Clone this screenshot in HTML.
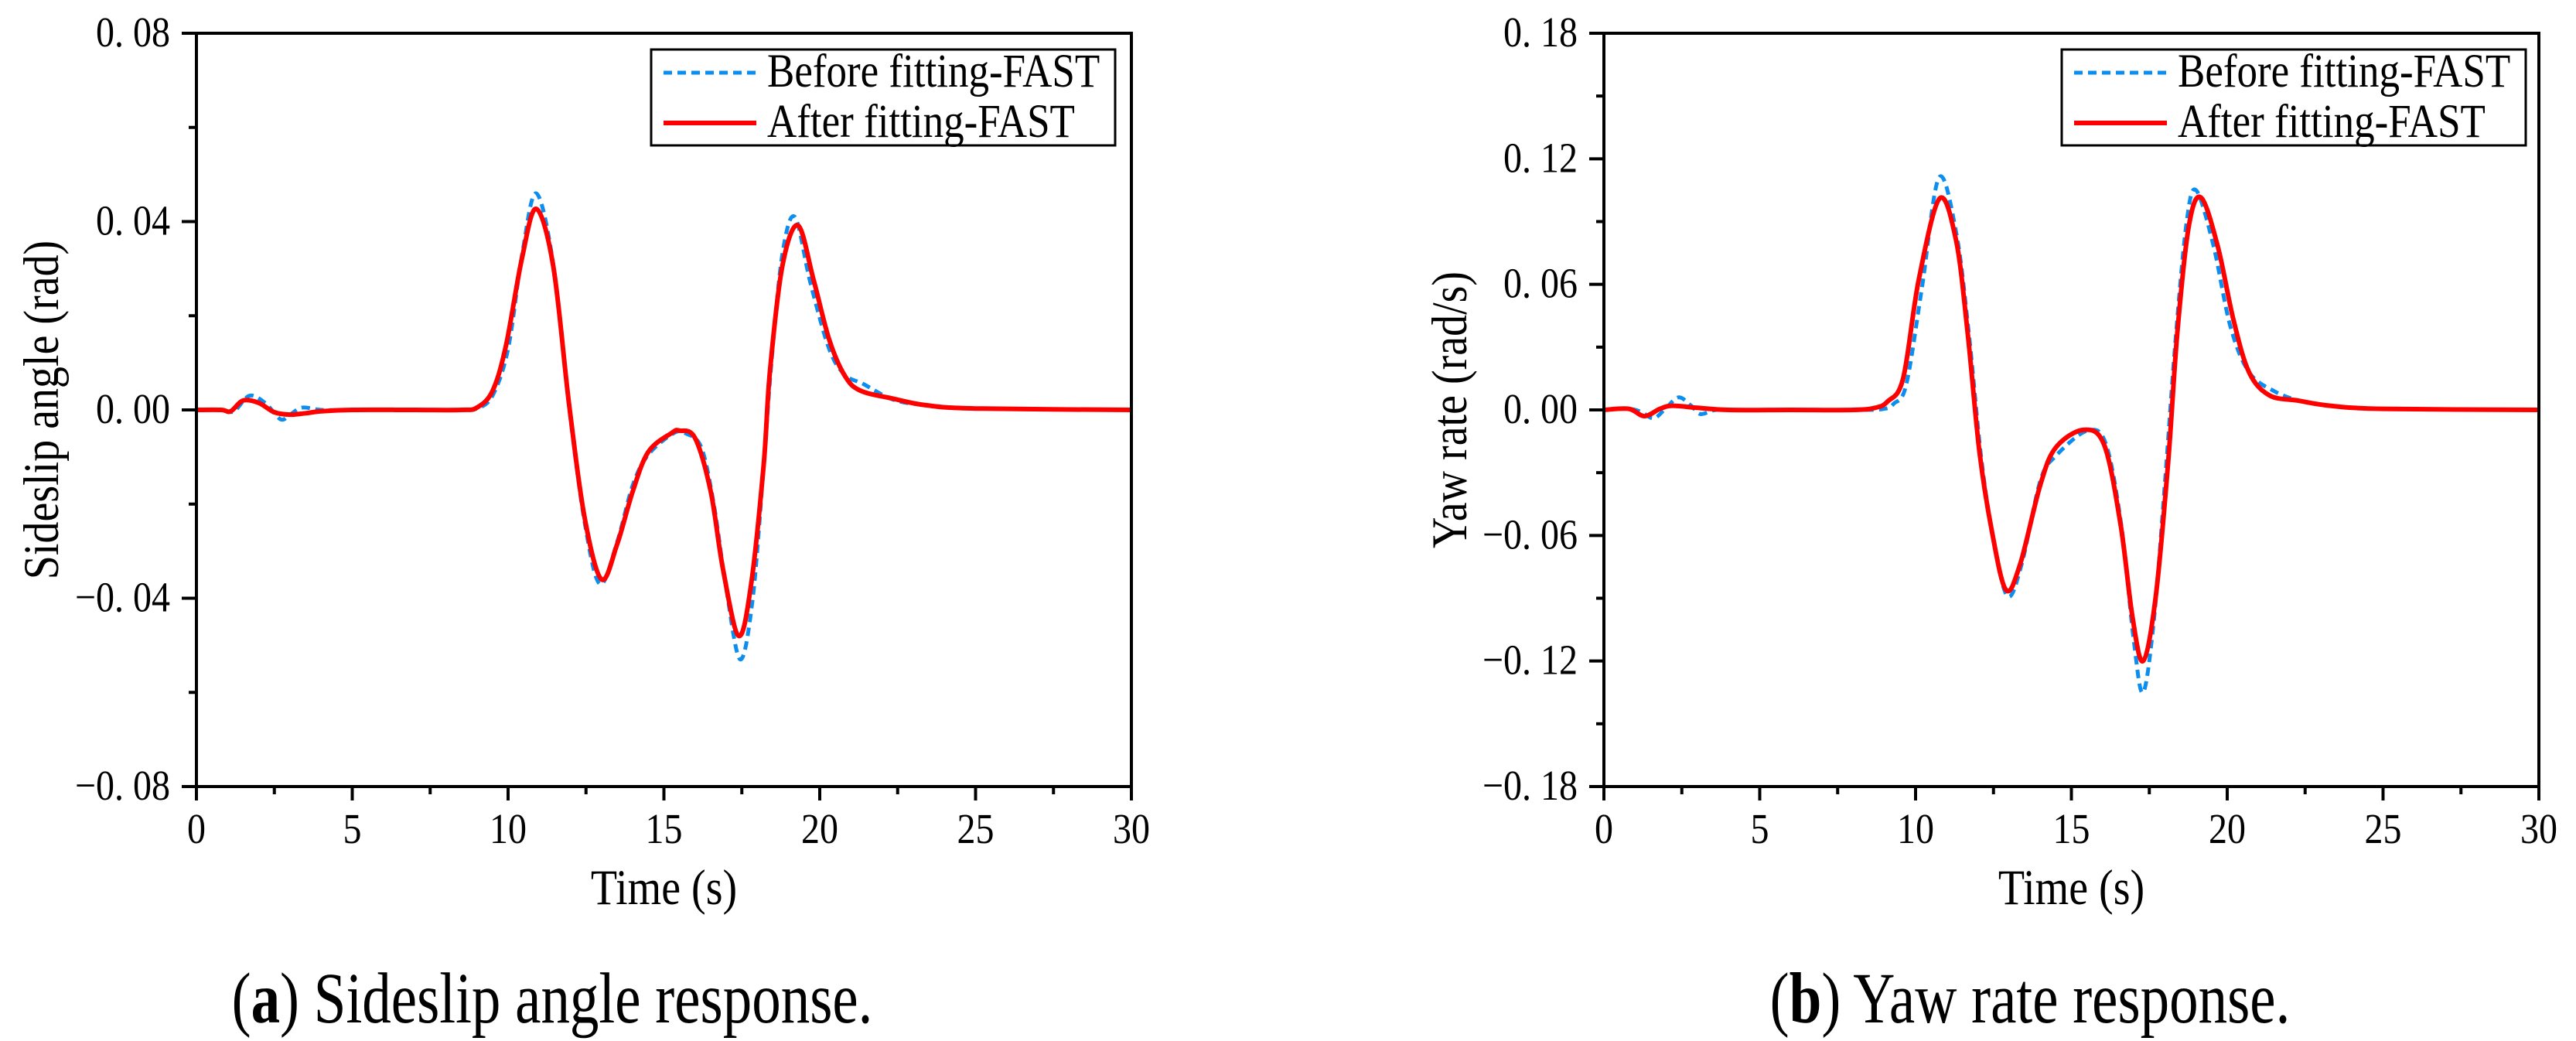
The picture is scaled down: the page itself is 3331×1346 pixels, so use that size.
<!DOCTYPE html>
<html><head><meta charset="utf-8">
<style>
html,body{margin:0;padding:0;background:#fff;}
svg{display:block;font-family:"Liberation Serif",serif;}
</style></head>
<body>
<svg id="fig" width="3331" height="1346" viewBox="0 0 3331 1346" xmlns="http://www.w3.org/2000/svg">
<text x="0" y="0" font-size="75" text-anchor="middle" transform="translate(714,1322) scale(1,1.25)">(<tspan font-weight="bold">a</tspan>) Sideslip angle response.</text>
<text x="0" y="0" font-size="75" text-anchor="middle" transform="translate(2625,1322) scale(1,1.25)">(<tspan font-weight="bold">b</tspan>) Yaw rate response.</text>
</svg>
<script>
// ---- data: sideslip (a) ----
const tA_red = [0,0.8,1.1,1.5,2.0,2.5,3.0,3.5,4.0,5,7,8.5,9.0,9.5,9.93,10.44,10.9,11.45,11.96,12.46,13.0,13.5,14.0,14.5,15.25,15.5,16.0,16.5,16.9,17.4,17.8,18.2,18.4,18.8,19.3,19.8,20.3,20.8,21.3,22.35,23.4,25,30];
const vA_red = [0,0,-0.0003,0.002,0.0015,-0.0005,-0.001,-0.0007,-0.0003,0,0,0,0.0005,0.004,0.0136,0.032,0.0427,0.0305,0.001,-0.023,-0.036,-0.0285,-0.0173,-0.0089,-0.0049,-0.0044,-0.006,-0.0173,-0.034,-0.048,-0.037,-0.0117,0.008,0.0305,0.0392,0.0277,0.015,0.0073,0.0041,0.0024,0.001,0.0003,0];
const tA_blue = [0,0.8,1.2,1.7,2.2,2.7,3.0,3.4,4.0,5,7,8.5,9.0,9.5,10.0,10.45,10.9,11.45,11.96,12.46,12.95,13.5,14.0,14.5,15.3,15.7,16.2,16.6,17.0,17.45,17.85,18.2,18.45,18.8,19.2,19.7,20.3,20.8,21.4,22.35,23.4,25,30];
const vA_blue = [0,0,-0.0003,0.003,0.0015,-0.002,-0.001,0.0005,0,0,0,0,0.0003,0.003,0.013,0.033,0.046,0.031,0.0005,-0.024,-0.037,-0.028,-0.016,-0.0095,-0.005,-0.005,-0.008,-0.02,-0.038,-0.053,-0.04,-0.012,0.01,0.033,0.041,0.027,0.013,0.0075,0.0055,0.0022,0.001,0.0003,0];
// ---- data: yaw rate (b) ----
const tB_red = [0,0.8,1.3,1.8,2.2,3.0,4.0,6,8,8.7,9.1,9.6,10.1,10.77,11.3,11.67,12.05,12.45,12.9,13.35,14.0,14.5,15.4,16.06,16.58,16.96,17.3,17.7,18.1,18.4,18.77,19.16,19.7,20.2,20.7,21.35,22.25,23.3,25,30];
const vB_red = [0,0.0005,-0.003,0.0005,0.002,0.001,0,0,0,0.001,0.004,0.015,0.062,0.101,0.081,0.037,-0.02,-0.058,-0.086,-0.074,-0.036,-0.018,-0.0095,-0.017,-0.055,-0.099,-0.12,-0.09,-0.026,0.037,0.088,0.1015,0.078,0.043,0.018,0.007,0.0045,0.002,0.0005,0];
const tB_blue = [0,0.8,1.2,1.6,2.0,2.4,2.8,3.1,3.6,4.5,6.5,8.3,9.0,9.3,9.7,10.2,10.75,11.3,11.7,12.1,12.5,12.95,13.4,14.0,14.5,15.5,16.1,16.6,17.0,17.3,17.65,18.0,18.35,18.7,19.0,19.55,20.1,20.7,21.5,22.3,23.3,25,30];
const vB_blue = [0,0.0005,-0.001,-0.004,0.001,0.006,0.002,-0.002,0,0,0,0,0.0005,0.003,0.012,0.058,0.111,0.085,0.038,-0.022,-0.062,-0.089,-0.074,-0.034,-0.022,-0.01,-0.016,-0.055,-0.11,-0.135,-0.1,-0.035,0.035,0.09,0.105,0.079,0.04,0.018,0.009,0.0045,0.002,0.0005,0];
// ticks
const xTicks = [0,5,10,15,20,25,30];
const yTicksA = [-0.08,-0.04,0,0.04,0.08];
const yTicksB = [-0.18,-0.12,-0.06,0,0.06,0.12,0.18];
const legendLabels = ["Before fitting-FAST","After fitting-FAST"];

const NS="http://www.w3.org/2000/svg";
const svg=document.getElementById('fig');
const SY=1.15;
function mk(tag,attrs,parent){const e=document.createElementNS(NS,tag);for(const k in attrs)e.setAttribute(k,attrs[k]);(parent||svg).appendChild(e);return e;}
function txt(x,y,size,anchor,parent,extra){return mk('text',{x:0,y:0,'font-size':size,'text-anchor':anchor,transform:`translate(${x},${y}) ${extra||''} scale(1,${SY})`},parent);}
function fmt(v){const s=Math.abs(v).toFixed(2).replace('.', '. ');return (v<0?'\u2212':'')+s;}
function pathD(ts,vs,sx,sy){
  const p=ts.map((t,i)=>[sx(t),sy(vs[i])]);
  let d='M'+p[0][0].toFixed(1)+','+p[0][1].toFixed(1);
  for(let i=0;i<p.length-1;i++){
    const p0=p[i-1]||p[i],p1=p[i],p2=p[i+1],p3=p[i+2]||p[i+1];
    const c1=[p1[0]+(p2[0]-p0[0])/6,p1[1]+(p2[1]-p0[1])/6];
    const c2=[p2[0]-(p3[0]-p1[0])/6,p2[1]-(p3[1]-p1[1])/6];
    d+='C'+c1[0].toFixed(1)+','+c1[1].toFixed(1)+' '+c2[0].toFixed(1)+','+c2[1].toFixed(1)+' '+p2[0].toFixed(1)+','+p2[1].toFixed(1);
  }
  return d;
}
function chart(o){
  const g=mk('g',{});
  
  
  const sx=t=>o.x0+(t-0)/30*(o.x1-o.x0);
  const sy=v=>o.y1-(v-o.ymin)/(o.ymax-o.ymin)*(o.y1-o.y0);
  const b=mk('path',{d:pathD(o.tb,o.vb,sx,sy),fill:'none',stroke:'#0b8ef0','stroke-width':5,'stroke-dasharray':'11 7'},g);
  
  
  const r=mk('path',{d:pathD(o.tr,o.vr,sx,sy),fill:'none',stroke:'#ff0000','stroke-width':6,'stroke-linejoin':'round'},g);
  
  
  const fr=mk('rect',{x:o.x0,y:o.y0,width:o.x1-o.x0,height:o.y1-o.y0,fill:'none',stroke:'#000','stroke-width':4},g);
  
  
  for(let i=0;i<xTicks.length;i++){
    const x=sx(xTicks[i]);
    mk('line',{x1:x,x2:x,y1:o.y1,y2:o.y1+18,stroke:'#000','stroke-width':4},g);
    if(i<xTicks.length-1){const xm=sx(xTicks[i]+2.5);mk('line',{x1:xm,x2:xm,y1:o.y1,y2:o.y1+10,stroke:'#000','stroke-width':4},g);}
    const t=txt(x,o.y1+73,48,'middle',g);
    
    
    t.textContent=xTicks[i];
  }
  for(let i=0;i<o.yt.length;i++){
    const y=sy(o.yt[i]);
    mk('line',{x1:o.x0-19,x2:o.x0,y1:y,y2:y,stroke:'#000','stroke-width':4},g);
    if(i<o.yt.length-1){const ym=sy((o.yt[i]+o.yt[i+1])/2);mk('line',{x1:o.x0-10,x2:o.x0,y1:ym,y2:ym,stroke:'#000','stroke-width':4},g);}
    const t=txt(o.x0-34,y+17,48,'end',g);
    
    
    t.textContent=fmt(o.yt[i]);
  }
  const xt=txt((o.x0+o.x1)/2,1169,56,'middle',g);
  
  
  xt.textContent='Time (s)';
  const yt=mk('text',{x:0,y:0,'font-size':56,'text-anchor':'middle',transform:`translate(${o.ytx},${(o.y0+o.y1)/2}) rotate(-90) scale(1,${SY})`},g);
  
  
  yt.textContent=o.ytitle;
  const lg=mk('g',{},g);
  
  
  mk('rect',{x:o.lx,y:64,width:o.lw,height:124,fill:'#fff',stroke:'#000','stroke-width':3},lg);
  mk('line',{x1:o.lx+16,x2:o.lx+136,y1:94,y2:94,stroke:'#0b8ef0','stroke-width':5,'stroke-dasharray':'11 7'},lg);
  mk('line',{x1:o.lx+16,x2:o.lx+136,y1:159,y2:159,stroke:'#ff0000','stroke-width':6},lg);
  const l1=txt(o.lx+150,112,53,'start',lg);
  
  
  l1.textContent=legendLabels[0];
  const l2=txt(o.lx+150,177,53,'start',lg);
  
  
  l2.textContent=legendLabels[1];
}
chart({name:'sideslip-chart',x0:254,x1:1463,y0:43,y1:1017,ymin:-0.08,ymax:0.08,yt:yTicksA,tr:tA_red,vr:vA_red,tb:tA_blue,vb:vA_blue,ytitle:'Sideslip angle (rad)',ytx:75,lx:842,lw:600});
chart({name:'yaw-rate-chart',x0:2074,x1:3283,y0:43,y1:1017,ymin:-0.18,ymax:0.18,yt:yTicksB,tr:tB_red,vr:vB_red,tb:tB_blue,vb:vB_blue,ytitle:'Yaw rate (rad/s)',ytx:1896,lx:2666,lw:600});
</script>
</body></html>
